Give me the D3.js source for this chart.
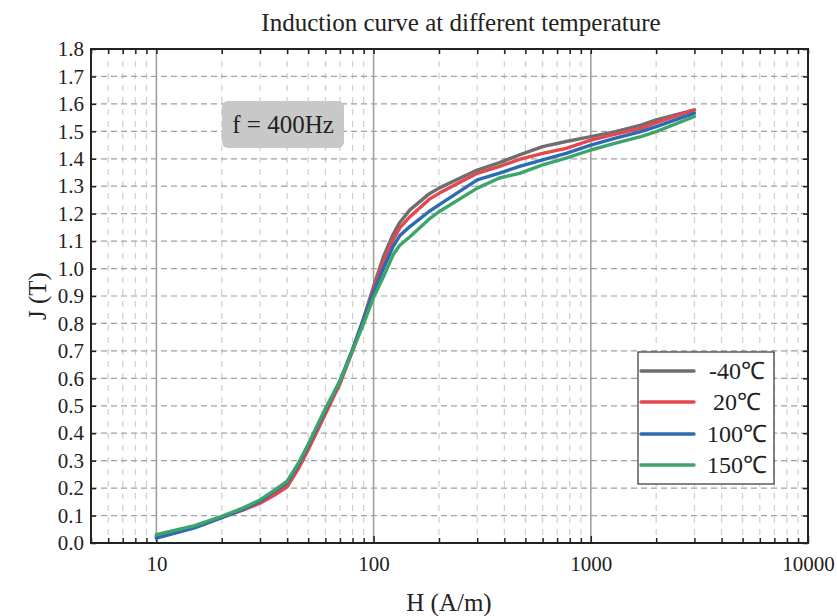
<!DOCTYPE html>
<html><head><meta charset="utf-8">
<script src="https://cdn.jsdelivr.net/npm/d3@7/dist/d3.min.js"></script>
<style>body{margin:0;background:#fff}svg{display:block}</style>
</head><body>
<svg id="c" width="837" height="616" font-family="Liberation Serif, DejaVu Serif, serif"></svg>
<script>
const H = [10,15,20,25,30,35,40,45,50,60,70,80,90,100,111,123,132,147,180,200,300,380,470,600,770,1000,1300,1700,2000,3000];
const Jm40 = [0.025,0.06,0.095,0.125,0.15,0.18,0.21,0.28,0.35,0.48,0.59,0.705,0.82,0.935,1.043,1.125,1.168,1.214,1.272,1.293,1.359,1.386,1.414,1.444,1.463,1.481,1.499,1.523,1.542,1.578];
const J20 = [0.025,0.058,0.093,0.12,0.145,0.175,0.205,0.27,0.34,0.47,0.58,0.70,0.815,0.925,1.025,1.105,1.148,1.189,1.252,1.274,1.347,1.372,1.398,1.42,1.438,1.468,1.49,1.511,1.532,1.578];
const J100 = [0.018,0.055,0.092,0.122,0.152,0.19,0.22,0.285,0.355,0.485,0.59,0.705,0.815,0.915,1.001,1.08,1.12,1.153,1.208,1.232,1.323,1.348,1.372,1.396,1.42,1.45,1.475,1.499,1.517,1.566];
const J150 = [0.03,0.063,0.097,0.127,0.157,0.193,0.225,0.29,0.36,0.49,0.59,0.70,0.80,0.895,0.97,1.05,1.085,1.116,1.18,1.207,1.293,1.33,1.347,1.378,1.402,1.432,1.457,1.481,1.499,1.554];
const seriesNames = ["-40℃","20℃","100℃","150℃"];
const seriesData = [Jm40, J20, J100, J150];
const colors = ["#6e6e6e","#e5474f","#2f69b3","#3ba56a"];
const xMajor = [10,100,1000,10000];
const yTicks = d3.range(0,19).map(i=>+(i/10).toFixed(1));
const FONT = "Liberation Serif, Times New Roman, serif";

const svg = d3.select("#c");
const L=91, R=808, T=49, B=543;
const x = d3.scaleLog().domain([5,10000]).range([L,R]);
const y = d3.scaleLinear().domain([0,1.8]).range([B,T]);

const minors=[];
[1,10,100,1000].forEach(d=>{for(let k=1;k<10;k++){const v=d*k; if(v>=5&&v<=10000&&!xMajor.includes(v)) minors.push(v);}});

const g = svg.append("g");
g.selectAll(".vmin").data(minors).join("line")
 .attr("x1",d=>x(d)).attr("x2",d=>x(d)).attr("y1",T).attr("y2",B)
 .attr("stroke","#cfcfcf").attr("stroke-width",1.2).attr("stroke-dasharray","6,6");
g.selectAll(".hg").data(yTicks.filter(v=>v>0&&v<1.8)).join("line")
 .attr("x1",L).attr("x2",R).attr("y1",d=>y(d)).attr("y2",d=>y(d))
 .attr("stroke","#a0a0a0").attr("stroke-width",1.2).attr("stroke-dasharray","6,4");
g.selectAll(".vmaj").data(xMajor.filter(v=>v<10000)).join("line")
 .attr("x1",d=>x(d)).attr("x2",d=>x(d)).attr("y1",T).attr("y2",B)
 .attr("stroke","#a0a0a0").attr("stroke-width",1.6);

const fmt = d=>xMajor.includes(d)?String(d):"";
const allX = minors.concat(xMajor).sort((a,b)=>a-b);
const bx = svg.append("g").attr("transform",`translate(0,${B})`)
 .call(d3.axisBottom(x).tickValues(allX).tickFormat(fmt).tickSizeInner(-5).tickSizeOuter(0).tickPadding(13));
bx.selectAll(".tick line").attr("y2",d=>xMajor.includes(d)?-7:-5);
const tx = svg.append("g").attr("transform",`translate(0,${T})`)
 .call(d3.axisTop(x).tickValues(allX).tickFormat("").tickSizeInner(-5).tickSizeOuter(0));
const ly = svg.append("g").attr("transform",`translate(${L},0)`)
 .call(d3.axisLeft(y).tickValues(yTicks).tickFormat(d3.format(".1f")).tickSizeInner(-5).tickSizeOuter(0).tickPadding(7));
const ry = svg.append("g").attr("transform",`translate(${R},0)`)
 .call(d3.axisRight(y).tickValues(yTicks).tickFormat("").tickSizeInner(-5).tickSizeOuter(0));
[bx,tx,ly,ry].forEach(a=>{a.attr("font-family",FONT).attr("font-size",21);
 a.select(".domain").remove();a.selectAll(".tick line").attr("stroke","#222").attr("stroke-width",1.5);
 a.selectAll("text").attr("fill","#222");});

const line = d3.line().x((d,i)=>x(H[i])).y(d=>y(d));
svg.append("g").selectAll("path").data(seriesData).join("path")
 .attr("d",d=>line(d)).attr("fill","none").attr("stroke",(d,i)=>colors[i])
 .attr("stroke-width",3.4).attr("stroke-linejoin","round").attr("stroke-linecap","round");

svg.append("rect").attr("x",L).attr("y",T).attr("width",R-L).attr("height",B-T)
 .attr("fill","none").attr("stroke","#222").attr("stroke-width",2);

function txt(xx,yy,s,size){return svg.append("text").attr("x",xx).attr("y",yy).attr("text-anchor","middle")
 .attr("font-family",FONT).attr("font-size",size).attr("fill","#222").text(s);}
txt(461,31,"Induction curve at different temperature",25);
txt(449,611,"H (A/m)",25);
svg.append("text").attr("transform","translate(46,296) rotate(-90)").attr("text-anchor","middle")
 .attr("font-family",FONT).attr("font-size",25).attr("fill","#222").text("J (T)");

svg.append("rect").attr("x",222).attr("y",101).attr("width",122).attr("height",47).attr("rx",6).attr("fill","#c8c8c8");
txt(283,133,"f = 400Hz",25);

const lg = svg.append("g");
lg.append("rect").attr("x",638).attr("y",352).attr("width",136).attr("height",132).attr("fill","#fff").attr("stroke","#333").attr("stroke-width",1.2);
const ys=[371,402,434,465];
seriesNames.forEach((n,i)=>{
 lg.append("line").attr("x1",641).attr("x2",694).attr("y1",ys[i]).attr("y2",ys[i]).attr("stroke",colors[i]).attr("stroke-width",3.4).attr("stroke-linecap","round");
 txt(737,ys[i]+8,n,24);
});
</script>
</body></html>
